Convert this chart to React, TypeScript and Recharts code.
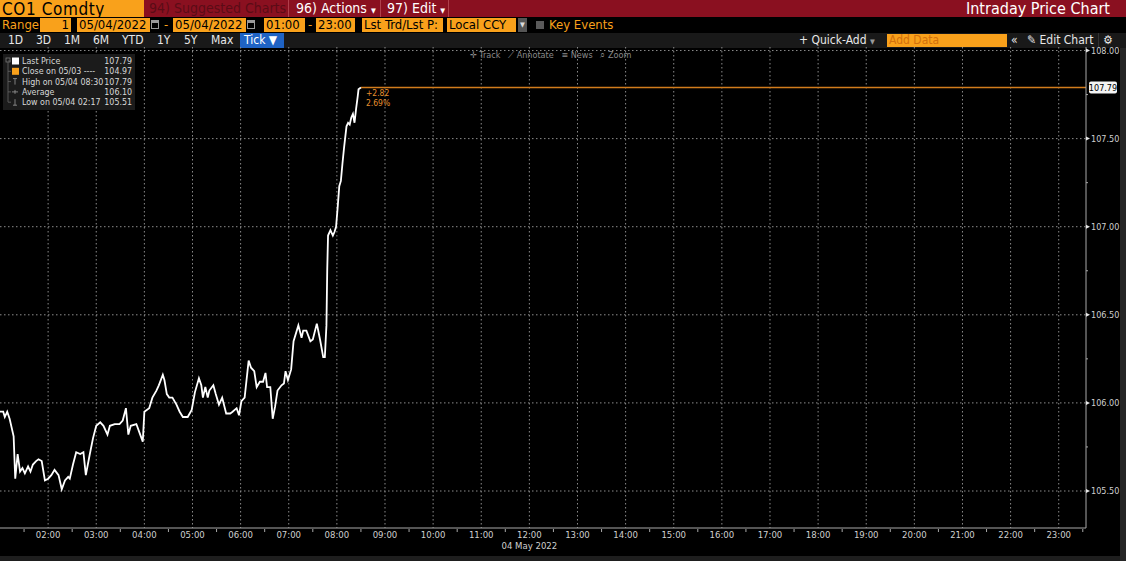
import { LineChart, Line, XAxis, YAxis, CartesianGrid } from 'recharts';

// CO1 Comdty intraday ticks, 04 May 2022
const times = [
  '01:00', '01:04', '01:06', '01:09', '01:12', '01:17', '01:19', '01:22', '01:25', '01:28',
  '01:31', '01:35', '01:38', '01:41', '01:45', '01:48', '01:52', '01:56', '02:00', '02:04',
  '02:08', '02:13', '02:17', '02:21', '02:25', '02:27', '02:31', '02:35', '02:40', '02:44',
  '02:47', '02:52', '02:56', '03:00', '03:05', '03:09', '03:14', '03:17', '03:23', '03:29',
  '03:33', '03:37', '03:40', '03:43', '03:50', '03:54', '03:58', '04:00', '04:06', '04:10',
  '04:15', '04:18', '04:23', '04:25', '04:28', '04:31', '04:35', '04:40', '04:44', '04:48',
  '04:54', '04:59', '05:03', '05:08', '05:11', '05:13', '05:16', '05:19', '05:21', '05:26',
  '05:29', '05:33', '05:37', '05:42', '05:47', '05:50', '05:55', '05:58', '06:01', '06:05',
  '06:10', '06:13', '06:17', '06:20', '06:24', '06:28', '06:31', '06:33', '06:37', '06:40',
  '06:43', '06:46', '06:51', '06:54', '06:56', '06:59', '07:03', '07:06', '07:12', '07:16',
  '07:18', '07:22', '07:27', '07:30', '07:35', '07:39', '07:43', '07:45', '07:47', '07:48',
  '07:49', '07:52', '07:55', '07:57', '07:59', '08:01', '08:03', '08:05', '08:07', '08:09',
  '08:12', '08:14', '08:16', '08:18', '08:20', '08:22', '08:24', '08:26', '08:27', '08:30',
];
const prices = [
  105.95, 105.95, 105.92, 105.95, 105.91, 105.81, 105.57, 105.71, 105.61, 105.63,
  105.6, 105.64, 105.61, 105.65, 105.67, 105.68, 105.67, 105.56, 105.57, 105.59,
  105.62, 105.59, 105.51, 105.56, 105.58, 105.57, 105.65, 105.72, 105.71, 105.72,
  105.59, 105.71, 105.8, 105.87, 105.89, 105.87, 105.82, 105.87, 105.88, 105.88,
  105.9, 105.97, 105.82, 105.87, 105.88, 105.83, 105.78, 105.95, 105.97, 106.03,
  106.07, 106.1, 106.16, 106.13, 106.05, 106.03, 106.03, 105.99, 105.95, 105.92,
  105.92, 105.96, 106.06, 106.14, 106.1, 106.03, 106.09, 106.03, 106.07, 106.1,
  106.05, 105.99, 106.03, 105.94, 105.94, 105.95, 105.97, 105.93, 106.01, 106.03,
  106.24, 106.2, 106.18, 106.09, 106.12, 106.12, 106.17, 106.09, 106.09, 105.91,
  105.98, 106.07, 106.1, 106.11, 106.18, 106.13, 106.19, 106.35, 106.44, 106.37,
  106.41, 106.41, 106.35, 106.36, 106.45, 106.36, 106.26, 106.26, 106.44, 106.76,
  106.95, 106.98, 106.95, 106.97, 107.0, 107.11, 107.23, 107.26, 107.36, 107.45,
  107.57, 107.59, 107.58, 107.62, 107.64, 107.59, 107.67, 107.74, 107.78, 107.79,
];

const hourLabels = [
  '02:00', '03:00', '04:00', '05:00', '06:00', '07:00', '08:00', '09:00', '10:00', '11:00', '12:00',
  '13:00', '14:00', '15:00', '16:00', '17:00', '18:00', '19:00', '20:00', '21:00', '22:00', '23:00',
];
const majorPriceTicks = [105.5, 106.0, 106.5, 107.0, 107.5, 108.0];
const minorPriceTicks = [105.75, 106.25, 106.75, 107.25, 107.75];

const startTime = '01:00';
const endTime = '23:34';
const prevClose = 104.97;
const lastPrice = 107.79;
const avgPrice = 106.1;
const highTime = '08:30';
const lowPrice = 105.51;
const lowTime = '02:17';
const dateLabel = '04 May 2022';
const noon = '12:00';

const ORANGE = '#f9a11b';
const LEVEL = '#d27c1c';
const AXIS = '#a9a9a9';
const TXT = '#cfcfcf';
const FONT = '"Liberation Sans Narrow", "DejaVu Sans Condensed", "Roboto Condensed", Arial, sans-serif';

function toMin(t: string) {
  const [h, m] = t.split(':').map(Number);
  return h * 60 + m;
}

const priceData = times.map((t, i) => ({ t: toMin(t), price: prices[i] }));
const levelData = [highTime, endTime].map((t) => ({ t: toMin(t), level: lastPrice }));

const hourTicks = hourLabels.map(toMin);
const halfTicks = hourTicks.map((m) => m - 30).concat([toMin(hourLabels[hourLabels.length - 1]) + 30]);
const xDomain = [toMin(startTime), toMin(endTime)];

function TimeTick(props: any) {
  const { x, y, payload } = props;
  const v = payload.value as number;
  if (v % 60 !== 0) {
    return <line x1={x} x2={x} y1={y + 1} y2={y + 4} stroke={AXIS} strokeWidth={1} />;
  }
  const label = `${String(Math.floor(v / 60)).padStart(2, '0')}:00`;
  return (
    <g>
      <text x={x} y={y + 10} textAnchor="middle" fill={TXT} fontSize={9.5} fontFamily={FONT}>
        {label}
      </text>
      {label === noon && (
        <text x={x} y={y + 21} textAnchor="middle" fill={TXT} fontSize={9.5} fontFamily={FONT}>
          {dateLabel}
        </text>
      )}
    </g>
  );
}

function PriceTick(props: any) {
  const { x, y, payload } = props;
  const v = payload.value as number;
  if (v === lastPrice) {
    return (
      <g>
        <rect x={x + 3} y={y - 6} width={28} height={12} rx={2} fill="#f4f4f4" />
        <text x={x + 17} y={y + 3.2} textAnchor="middle" fill="#000" fontSize={9} fontFamily={FONT}>
          {v.toFixed(2)}
        </text>
      </g>
    );
  }
  if (!majorPriceTicks.includes(v)) {
    return <line x1={x} x2={x + 2} y1={y} y2={y} stroke={AXIS} strokeWidth={1} />;
  }
  return (
    <g>
      <path d={`M${x},${y - 2} L${x + 4},${y} L${x},${y + 2} Z`} fill="#e8e8e8" />
      <text x={x + 5} y={y + 3.2} fill={TXT} fontSize={9} fontFamily={FONT}>
        {v.toFixed(2)}
      </text>
    </g>
  );
}

function LevelDot(props: any) {
  const { cx, cy, payload } = props;
  if (payload.t !== toMin(highTime)) return <g key={`lv-${payload.t}`} />;
  const change = lastPrice - prevClose;
  const pct = (change / prevClose) * 100;
  return (
    <g key="lv-label" fontFamily={FONT}>
      <text x={cx + 5} y={cy + 8} fill="#e8902e" fontSize={8.5}>
        {`+${change.toFixed(2)}`}
      </text>
      <text x={cx + 5} y={cy + 18} fill="#e8902e" fontSize={8.5}>
        {`${pct.toFixed(2)}%`}
      </text>
    </g>
  );
}

const legendRows = [
  { icon: 'sq', color: '#ffffff', label: 'Last Price', value: lastPrice.toFixed(2) },
  { icon: 'sq', color: ORANGE, label: 'Close on 05/03 ----', value: prevClose.toFixed(2) },
  { icon: 'hi', color: '', label: `High on 05/04 ${highTime}`, value: lastPrice.toFixed(2) },
  { icon: 'avg', color: '', label: 'Average', value: avgPrice.toFixed(2) },
  { icon: 'lo', color: '', label: `Low on 05/04 ${lowTime}`, value: lowPrice.toFixed(2) },
];

function LegendBox() {
  return (
    <svg width={132} height={56} style={{ position: 'absolute', left: 3, top: 54 }}>
      <rect width={132} height={56} fill="#1b1b1b" />
      <rect x={3} y={4} width={4} height={4} fill="none" stroke="#777" strokeWidth={0.8} />
      <line x1={5} x2={5} y1={8} y2={48} stroke="#666" strokeWidth={0.8} />
      {legendRows.map((r, i) => {
        const cy = 7 + i * 10.3;
        return (
          <g key={r.label}>
            <line x1={5} x2={8} y1={cy} y2={cy} stroke="#666" strokeWidth={0.8} />
            {r.icon === 'sq' && <rect x={9} y={cy - 3.5} width={7} height={7} fill={r.color} />}
            {r.icon === 'hi' && (
              <path d={`M10,${cy - 3} L14,${cy - 3} M12,${cy - 3} L12,${cy + 3}`} stroke="#999" strokeWidth={0.8} />
            )}
            {r.icon === 'avg' && (
              <path d={`M9,${cy} L15,${cy} M12,${cy - 2} L12,${cy + 2}`} stroke="#999" strokeWidth={0.8} />
            )}
            {r.icon === 'lo' && (
              <path d={`M10,${cy + 3} L14,${cy + 3} M12,${cy - 3} L12,${cy + 3}`} stroke="#999" strokeWidth={0.8} />
            )}
            <text x={19} y={cy + 3} fill="#d8d8d8" fontSize={8.8} fontFamily={FONT}>
              {r.label}
            </text>
            <text x={129} y={cy + 3} fill="#d8d8d8" fontSize={8.8} fontFamily={FONT} textAnchor="end">
              {r.value}
            </text>
          </g>
        );
      })}
    </svg>
  );
}

const box = (left: number, width: number, text: string, align: 'left' | 'right' = 'left') => (
  <div
    style={{
      position: 'absolute', left, top: 18, width, height: 14, background: ORANGE, color: '#000',
      fontSize: 13, lineHeight: '14px', textAlign: align, paddingLeft: 2, paddingRight: 2, boxSizing: 'border-box',
      overflow: 'hidden', whiteSpace: 'nowrap',
    }}
  >
    {text}
  </div>
);

const cal = (left: number) => (
  <div style={{ position: 'absolute', left, top: 20, width: 8, height: 9, border: '1px solid #999', boxSizing: 'border-box', borderTopWidth: 3 }} />
);

const tabs = [
  { t: '1D', x: 8 }, { t: '3D', x: 36 }, { t: '1M', x: 64 }, { t: '6M', x: 93 }, { t: 'YTD', x: 122 },
  { t: '1Y', x: 157 }, { t: '5Y', x: 184 }, { t: 'Max', x: 211 },
];

const head = { position: 'absolute' as const, top: 0, height: 17, fontSize: 14, lineHeight: '17px', whiteSpace: 'nowrap' as const };

export default function App() {
  return (
    <div style={{ position: 'relative', width: 1126, height: 561, background: '#000', overflow: 'hidden', fontFamily: FONT }}>
      <style>{'body{margin:0}'}</style>

      {/* row 1 */}
      <div style={{ position: 'absolute', left: 0, top: 0, width: 1126, height: 17, background: '#8a1020' }} />
      <div style={{ position: 'absolute', left: 0, top: 0, width: 144, height: 17, background: ORANGE }} />
      <div style={{ position: 'absolute', left: 2, top: -1, color: '#000', fontSize: 17, lineHeight: '20px', letterSpacing: 0.6, whiteSpace: 'nowrap' }}>
        CO1 Comdty
      </div>
      <div style={{ ...head, left: 149, color: '#5a0c16' }}>94) Suggested Charts</div>
      <div style={{ position: 'absolute', left: 288, top: 0, width: 1, height: 17, background: '#b0404c' }} />
      <div style={{ ...head, left: 296, color: '#fff' }}>
        96) Actions <span style={{ fontSize: 7 }}>▼</span>
      </div>
      <div style={{ position: 'absolute', left: 380, top: 0, width: 1, height: 17, background: '#b0404c' }} />
      <div style={{ ...head, left: 387, color: '#fff' }}>
        97) Edit <span style={{ fontSize: 7 }}>▼</span>
      </div>
      <div style={{ position: 'absolute', left: 448, top: 0, width: 1, height: 17, background: '#b0404c' }} />
      <div style={{ ...head, right: 16, color: '#fff', fontSize: 16 }}>Intraday Price Chart</div>

      {/* row 2 */}
      <div style={{ position: 'absolute', left: 2, top: 18, color: ORANGE, fontSize: 13, lineHeight: '14px' }}>Range</div>
      {box(40, 31, '1', 'right')}
      {box(77, 73, '05/04/2022')}
      {cal(151)}
      <div style={{ position: 'absolute', left: 164, top: 18, color: ORANGE, fontSize: 13, lineHeight: '14px' }}>-</div>
      {box(173, 73, '05/04/2022')}
      {cal(247)}
      {box(264, 41, '01:00')}
      <div style={{ position: 'absolute', left: 308, top: 18, color: ORANGE, fontSize: 13, lineHeight: '14px' }}>-</div>
      {box(316, 39, '23:00')}
      {box(362, 81, 'Lst Trd/Lst P:')}
      {box(447, 69, 'Local CCY')}
      <div style={{ position: 'absolute', left: 518, top: 18, width: 9, height: 14, background: '#555', color: '#ddd', fontSize: 7, lineHeight: '14px', textAlign: 'center' }}>▼</div>
      <div style={{ position: 'absolute', left: 536, top: 21, width: 8, height: 8, background: '#5a5a5a' }} />
      <div style={{ position: 'absolute', left: 549, top: 18, color: ORANGE, fontSize: 13, lineHeight: '14px' }}>Key Events</div>

      {/* row 3 */}
      <div style={{ position: 'absolute', left: 0, top: 33, width: 1126, height: 15, background: '#191919' }} />
      {tabs.map((b) => (
        <div key={b.t} style={{ position: 'absolute', left: b.x, top: 33, color: '#e8e8e8', fontSize: 12, lineHeight: '15px' }}>{b.t}</div>
      ))}
      <div style={{ position: 'absolute', left: 240, top: 33, width: 44, height: 15, background: '#1f63c4', color: '#fff', fontSize: 12, lineHeight: '15px', paddingLeft: 4, boxSizing: 'border-box' }}>
        Tick ▼
      </div>
      <div style={{ position: 'absolute', left: 799, top: 33, color: '#e8e8e8', fontSize: 12, lineHeight: '15px' }}>
        + Quick-Add <span style={{ fontSize: 7, color: '#999' }}>▼</span>
      </div>
      <div style={{ position: 'absolute', left: 887, top: 34, width: 118, height: 13, background: ORANGE, color: '#d2700c', fontSize: 12, lineHeight: '13px', paddingLeft: 2 }}>
        Add Data
      </div>
      <div style={{ position: 'absolute', left: 1011, top: 33, color: '#e8e8e8', fontSize: 12, lineHeight: '15px' }}>«</div>
      <div style={{ position: 'absolute', left: 1027, top: 33, color: '#e8e8e8', fontSize: 12, lineHeight: '15px' }}>✎ Edit Chart</div>
      <div style={{ position: 'absolute', left: 1098, top: 33, width: 1, height: 15, background: '#333' }} />
      <div style={{ position: 'absolute', left: 1103, top: 33, color: '#e8e8e8', fontSize: 12, lineHeight: '15px' }}>⚙</div>

      {/* chart */}
      <div style={{ position: 'absolute', left: 0, top: 47 }}>
        <LineChart width={1126} height={514} margin={{ top: 0, right: 0, bottom: 0, left: 0 }}>
          <CartesianGrid
            stroke="#8c8c8c"
            strokeDasharray="1.5 2.5"
            horizontalValues={majorPriceTicks}
            verticalValues={hourTicks}
          />
          <XAxis
            dataKey="t"
            type="number"
            domain={xDomain}
            ticks={[...halfTicks, ...hourTicks].sort((a, b) => a - b)}
            interval={0}
            tick={<TimeTick />}
            tickLine={false}
            tickSize={0}
            tickMargin={0}
            height={33}
            axisLine={{ stroke: AXIS }}
            allowDataOverflow
          />
          <YAxis
            orientation="right"
            type="number"
            domain={[105.29, 108.02]}
            ticks={[...majorPriceTicks, ...minorPriceTicks, lastPrice].sort((a, b) => a - b)}
            interval={0}
            tick={<PriceTick />}
            tickLine={false}
            tickSize={0}
            tickMargin={0}
            width={40}
            axisLine={{ stroke: AXIS }}
            allowDataOverflow
          />
          <Line
            data={levelData}
            type="linear"
            dataKey="level"
            stroke={LEVEL}
            strokeWidth={1.4}
            dot={LevelDot}
            activeDot={false}
            isAnimationActive={false}
          />
          <Line
            data={priceData}
            type="linear"
            dataKey="price"
            stroke="#ffffff"
            strokeWidth={1.8}
            dot={false}
            isAnimationActive={false}
          />
        </LineChart>
      </div>

      <LegendBox />

      <div style={{ position: 'absolute', left: 470, top: 50, color: '#8a8a8a', fontSize: 9, lineHeight: '11px', whiteSpace: 'pre' }}>
        {'✛ Track   ⟋ Annotate   ≡ News   ⌕ Zoom'}
      </div>

      <div style={{ position: 'absolute', left: 1120, top: 48, width: 6, height: 513, background: '#262626' }} />
      <div style={{ position: 'absolute', left: 0, top: 556, width: 1120, height: 5, background: '#1e1e1e' }} />
    </div>
  );
}
